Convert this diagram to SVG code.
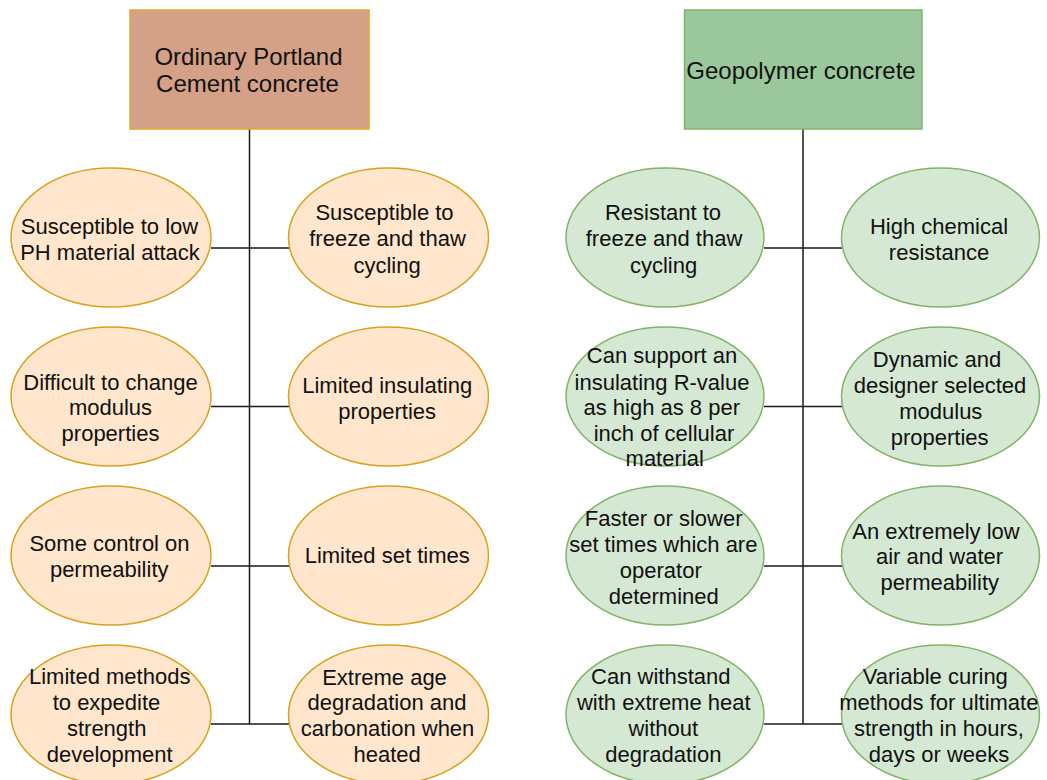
<svg xmlns="http://www.w3.org/2000/svg" width="1047" height="780" viewBox="0 0 1047 780">
<style>
.t{font-family:"Liberation Sans",Arial,Helvetica,sans-serif;font-size:22px;fill:#111;text-anchor:middle}
.h{font-size:24px}
.opcH{fill:#d5a088;stroke:#e0a82a;stroke-width:1.5}
.geoH{fill:#9ac79c;stroke:#82b366;stroke-width:1.5}
.opcE{fill:#ffe6cc;stroke:#d9a21e;stroke-width:1.5}
.geoE{fill:#d5e8d4;stroke:#82b366;stroke-width:1.5}
.c{stroke:#1a1a1a;stroke-width:1.5;fill:none}
</style>
<rect width="1047" height="780" fill="#ffffff"/>
<g id="connectors">
<path class="c" d="M249.5 129V724"/>
<path class="c" d="M211 248H289M211 406.5H289M211 566H289M211 724H289"/>
<path class="c" d="M803 129V724"/>
<path class="c" d="M764 248H842M764 406.5H842M764 566H842M764 724H842"/>
</g>
<g id="opc-header">
<rect class="opcH" x="130" y="10" width="239" height="119"/>
<text class="t h" x="248.5" y="64.5">Ordinary Portland</text>
<text class="t h" x="247.5" y="91.5">Cement concrete</text>
</g>
<g id="geo-header">
<rect class="geoH" x="684.5" y="10" width="237.5" height="119"/>
<text class="t h" x="801" y="78.5">Geopolymer concrete</text>
</g>
<g id="opc-l1">
<ellipse class="opcE" cx="111" cy="237.5" rx="100" ry="69.5"/>
<text class="t" x="109.5" y="234">Susceptible to low</text>
<text class="t" x="110" y="259.5">PH material attack</text>
</g>
<g id="opc-r1">
<ellipse class="opcE" cx="388.5" cy="237.5" rx="100" ry="69.5"/>
<text class="t" x="384.5" y="220">Susceptible to</text>
<text class="t" x="387.5" y="246">freeze and thaw</text>
<text class="t" x="387" y="273">cycling</text>
</g>
<g id="opc-l2">
<ellipse class="opcE" cx="111" cy="396.5" rx="100" ry="69.5"/>
<text class="t" x="110.5" y="389.5">Difficult to change</text>
<text class="t" x="110.5" y="414.5">modulus</text>
<text class="t" x="110.5" y="440.5">properties</text>
</g>
<g id="opc-r2">
<ellipse class="opcE" cx="388.5" cy="396.5" rx="100" ry="69.5"/>
<text class="t" x="387.2" y="393">Limited insulating</text>
<text class="t" x="387.2" y="418.5">properties</text>
</g>
<g id="opc-l3">
<ellipse class="opcE" cx="111" cy="555.5" rx="100" ry="69.5"/>
<text class="t" x="109.5" y="551.3">Some control on</text>
<text class="t" x="109.2" y="577.3">permeability</text>
</g>
<g id="opc-r3">
<ellipse class="opcE" cx="388.5" cy="555.5" rx="100" ry="69.5"/>
<text class="t" x="387.2" y="563.3">Limited set times</text>
</g>
<g id="opc-l4">
<ellipse class="opcE" cx="111" cy="714.5" rx="100" ry="69.5"/>
<text class="t" x="109.7" y="684">Limited methods</text>
<text class="t" x="106.5" y="710.3">to expedite</text>
<text class="t" x="106.7" y="736.3">strength</text>
<text class="t" x="109.7" y="762">development</text>
</g>
<g id="opc-r4">
<ellipse class="opcE" cx="388.5" cy="714.5" rx="100" ry="69.5"/>
<text class="t" x="384.5" y="684.5">Extreme age</text>
<text class="t" x="387" y="710">degradation and</text>
<text class="t" x="387.5" y="736">carbonation when</text>
<text class="t" x="387.2" y="761.5">heated</text>
</g>
<g id="geo-l1">
<ellipse class="geoE" cx="665" cy="237.5" rx="99" ry="69.5"/>
<text class="t" x="663" y="220">Resistant to</text>
<text class="t" x="664" y="246">freeze and thaw</text>
<text class="t" x="663.5" y="273">cycling</text>
</g>
<g id="geo-r1">
<ellipse class="geoE" cx="940.5" cy="237.5" rx="99" ry="69.5"/>
<text class="t" x="939" y="234">High chemical</text>
<text class="t" x="939" y="259.5">resistance</text>
</g>
<g id="geo-l2">
<ellipse class="geoE" cx="665" cy="396.5" rx="99" ry="69.5"/>
<text class="t" x="662" y="363">Can support an</text>
<text class="t" x="662" y="389.5">insulating R-value</text>
<text class="t" x="661.7" y="415.3">as high as 8 per</text>
<text class="t" x="664" y="441.3">inch of cellular</text>
<text class="t" x="664.7" y="466.3">material</text>
</g>
<g id="geo-r2">
<ellipse class="geoE" cx="940.5" cy="396.5" rx="99" ry="69.5"/>
<text class="t" x="937" y="367">Dynamic and</text>
<text class="t" x="940" y="393">designer selected</text>
<text class="t" x="940.8" y="418.7">modulus</text>
<text class="t" x="939.7" y="444.7">properties</text>
</g>
<g id="geo-l3">
<ellipse class="geoE" cx="665" cy="555.5" rx="99" ry="69.5"/>
<text class="t" x="663.7" y="526.3">Faster or slower</text>
<text class="t" x="663.3" y="552">set times which are</text>
<text class="t" x="660.8" y="578">operator</text>
<text class="t" x="663.7" y="603.7">determined</text>
</g>
<g id="geo-r3">
<ellipse class="geoE" cx="940.5" cy="555.5" rx="99" ry="69.5"/>
<text class="t" x="936" y="538.7">An extremely low</text>
<text class="t" x="939.5" y="564">air and water</text>
<text class="t" x="939.7" y="590">permeability</text>
</g>
<g id="geo-l4">
<ellipse class="geoE" cx="665" cy="714.5" rx="99" ry="69.5"/>
<text class="t" x="660.8" y="684">Can withstand</text>
<text class="t" x="663.8" y="710.3">with extreme heat</text>
<text class="t" x="663.3" y="736.3">without</text>
<text class="t" x="663.3" y="762">degradation</text>
</g>
<g id="geo-r4">
<ellipse class="geoE" cx="940.5" cy="714.5" rx="99" ry="69.5"/>
<text class="t" x="935.3" y="684">Variable curing</text>
<text class="t" x="938.8" y="710">methods for ultimate</text>
<text class="t" x="939" y="736">strength in hours,</text>
<text class="t" x="939" y="761.5">days or weeks</text>
</g>
</svg>
